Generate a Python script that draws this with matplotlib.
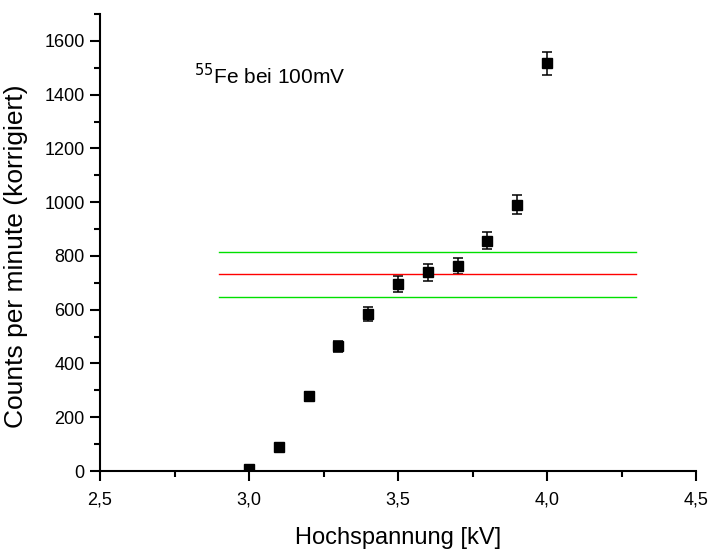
import matplotlib
matplotlib.use("Agg")
import matplotlib.pyplot as plt
from matplotlib.ticker import MultipleLocator, FuncFormatter

# measured counts (corrected) vs high voltage
voltage = [3.0, 3.1, 3.2, 3.3, 3.4, 3.5, 3.6, 3.7, 3.8, 3.9, 4.0]
counts = [6, 89, 278, 464, 583, 696, 739, 762, 857, 990, 1516]
errors = [3, 10, 16, 21, 26, 31, 31, 29, 32, 35, 42]

# mean and band (horizontal reference lines)
band_x = [2.9, 4.3]
mean_level = 732
upper_level = 813
lower_level = 648

plt.rcParams['font.family'] = ['Liberation Sans', 'DejaVu Sans']

fig = plt.figure(figsize=(7.08, 5.54), dpi=100)
ax = fig.add_axes([0.1413, 0.1498, 0.8418, 0.8249])

ax.errorbar(voltage, counts, yerr=errors, fmt='s', color='black',
            markersize=6.5, ecolor='black', elinewidth=1.1, capsize=3.8,
            capthick=1.1)

ax.plot(band_x, [mean_level] * 2, color='#ff0000', lw=1.0)
ax.plot(band_x, [upper_level] * 2, color='#00e000', lw=1.0)
ax.plot(band_x, [lower_level] * 2, color='#00e000', lw=1.0)

ax.set_xlim(2.5, 4.5)
ax.set_ylim(0, 1700)
ax.xaxis.set_major_locator(MultipleLocator(0.5))
ax.xaxis.set_minor_locator(MultipleLocator(0.25))
ax.yaxis.set_major_locator(MultipleLocator(200))
ax.yaxis.set_minor_locator(MultipleLocator(100))
ax.xaxis.set_major_formatter(FuncFormatter(lambda v, p: f"{v:.1f}".replace('.', ',')))

for side in ('top', 'right'):
    ax.spines[side].set_visible(False)
for side in ('left', 'bottom'):
    ax.spines[side].set_linewidth(1.5)

ax.tick_params(which='major', direction='out', length=7, width=1.5,
               labelsize=13, pad=4)
ax.tick_params(axis='x', which='major', pad=8)
ax.tick_params(which='minor', direction='out', length=4.5, width=1.5)

ax.set_xlabel('Hochspannung [kV]', fontsize=17, labelpad=13)
ax.set_ylabel('Counts per minute (korrigiert)', fontsize=19)
ax.yaxis.set_label_coords(-0.121, 0.47)

ax.text(2.815, 1470, r'$^{55}$Fe bei 100mV', fontsize=15, va='center')

fig.savefig('out.png', dpi=100)
